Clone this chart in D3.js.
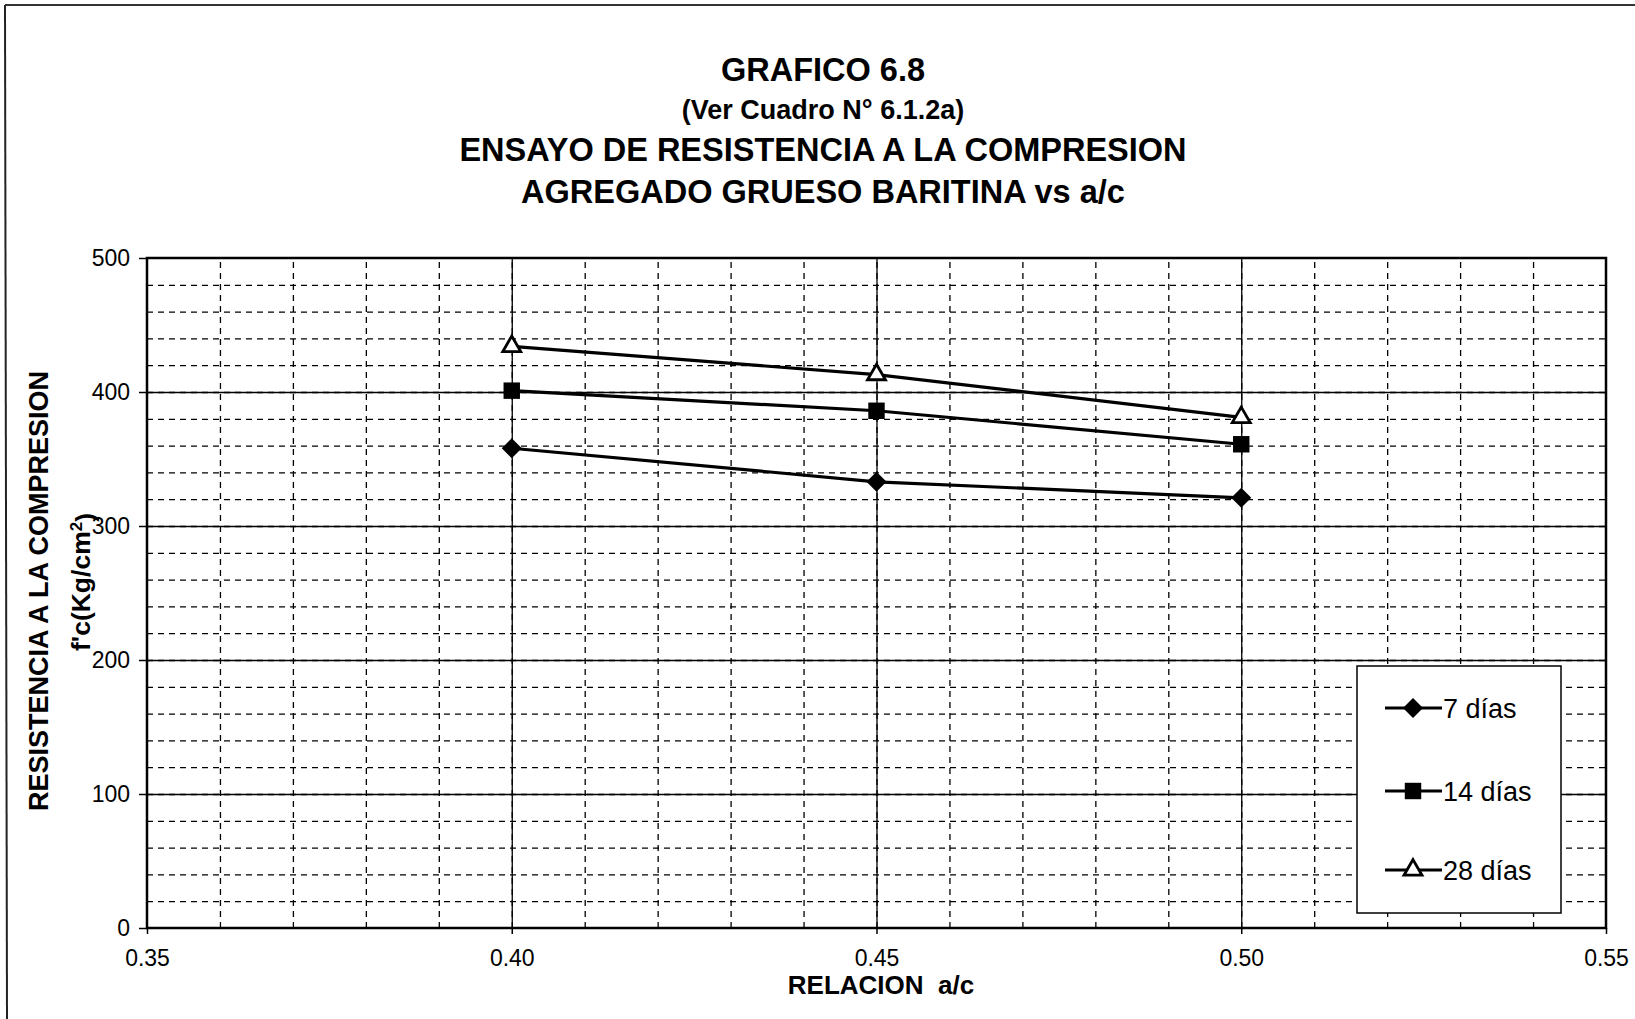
<!DOCTYPE html>
<html>
<head>
<meta charset="utf-8">
<script src="https://cdn.jsdelivr.net/npm/d3@7"></script>
<style>
  body { margin: 0; background: #fff; }
  text { font-family: "Liberation Sans", Arial, sans-serif; }
</style>
</head>
<body>
<div id="chart"></div>
<script>
// Data
var relacion = [0.40, 0.45, 0.50];
var dias7 = [358, 333, 321];
var dias14 = [401, 386, 361];
var dias28 = [434, 413, 381];
var seriesNames = ["7 días", "14 días", "28 días"];
var xTicks = [0.35, 0.40, 0.45, 0.50, 0.55];
var yTicks = [0, 100, 200, 300, 400, 500];

var width = 1635;
var height = 1019;
var margin = { top: 258, right: 29, bottom: 91, left: 147 };

var svg = d3.select("#chart")
    .append("svg")
    .attr("width", width)
    .attr("height", height);

// outer frame (only left and top edges visible in the scan)
svg.append("line")
    .attr("x1", 5).attr("y1", 5).attr("x2", 7).attr("y2", height)
    .attr("stroke", "#222").attr("stroke-width", 2);
svg.append("line")
    .attr("x1", 5).attr("y1", 5).attr("x2", width).attr("y2", 5)
    .attr("stroke", "#333").attr("stroke-width", 2);

var xScale = d3.scaleLinear()
    .domain([0.35, 0.55])
    .range([margin.left, width - margin.right]);

var yScale = d3.scaleLinear()
    .domain([0, 500])
    .range([height - margin.bottom, margin.top]);

var plotW = xScale.range()[1] - xScale.range()[0];
var plotH = yScale.range()[0] - yScale.range()[1];

// minor dashed grid
svg.append("g")
    .attr("transform", "translate(0," + (height - margin.bottom) + ")")
    .call(d3.axisBottom(xScale).tickValues(d3.range(36, 55).map(d => d / 100)).tickSize(-plotH).tickFormat(""))
    .call(g => g.select(".domain").remove())
    .selectAll("line")
    .attr("stroke", "#000")
    .attr("stroke-width", 1.3)
    .attr("stroke-dasharray", "6,5");

svg.append("g")
    .attr("transform", "translate(" + margin.left + ",0)")
    .call(d3.axisLeft(yScale).tickValues(d3.range(20, 500, 20)).tickSize(-plotW).tickFormat(""))
    .call(g => g.select(".domain").remove())
    .selectAll("line")
    .attr("stroke", "#000")
    .attr("stroke-width", 1.3)
    .attr("stroke-dasharray", "6,5");

// major solid grid
svg.append("g")
    .attr("transform", "translate(0," + (height - margin.bottom) + ")")
    .call(d3.axisBottom(xScale).tickValues([0.40, 0.45, 0.50]).tickSize(-plotH).tickFormat(""))
    .call(g => g.select(".domain").remove())
    .selectAll("line")
    .attr("stroke", "#000")
    .attr("stroke-width", 1.3);

svg.append("g")
    .attr("transform", "translate(" + margin.left + ",0)")
    .call(d3.axisLeft(yScale).tickValues([100, 200, 300, 400]).tickSize(-plotW).tickFormat(""))
    .call(g => g.select(".domain").remove())
    .selectAll("line")
    .attr("stroke", "#000")
    .attr("stroke-width", 1.3);

// plot frame
svg.append("rect")
    .attr("x", margin.left)
    .attr("y", margin.top)
    .attr("width", plotW)
    .attr("height", plotH)
    .attr("fill", "none")
    .attr("stroke", "#000")
    .attr("stroke-width", 2.5);

// axes with labels
var xAxis = svg.append("g")
    .attr("transform", "translate(0," + (height - margin.bottom) + ")")
    .call(d3.axisBottom(xScale).tickValues(xTicks).tickSize(6).tickPadding(16).tickFormat(d3.format(".2f")));
xAxis.select(".domain").remove();
xAxis.selectAll("line").attr("stroke", "#000").attr("stroke-width", 1.5);
xAxis.selectAll("text")
    .attr("fill", "#000")
    .style("font-size", "23px");

var yAxis = svg.append("g")
    .attr("transform", "translate(" + margin.left + ",0)")
    .call(d3.axisLeft(yScale).tickValues(yTicks).tickSize(8).tickPadding(9));
yAxis.select(".domain").remove();
yAxis.selectAll("line").attr("stroke", "#000").attr("stroke-width", 1.5);
yAxis.selectAll("text")
    .attr("fill", "#000")
    .style("font-size", "23px");

// series
var series = [dias7, dias14, dias28];
var shapes = ["diamond", "square", "triangle"];

var line = d3.line()
    .x((d, i) => xScale(relacion[i]))
    .y(d => yScale(d));

function marker(g, shape) {
    if (shape === "diamond") {
        g.append("path")
            .attr("d", d3.symbol().type(d3.symbolSquare).size(200)())
            .attr("transform", "rotate(45)")
            .attr("fill", "#000");
    } else if (shape === "square") {
        g.append("path")
            .attr("d", d3.symbol().type(d3.symbolSquare).size(270)())
            .attr("fill", "#000");
    } else {
        g.append("path")
            .attr("d", d3.symbol().type(d3.symbolTriangle).size(140)())
            .attr("fill", "#fff")
            .attr("stroke", "#000")
            .attr("stroke-width", 2.8);
    }
}

series.forEach(function(values, k) {
    svg.append("path")
        .datum(values)
        .attr("d", line)
        .attr("fill", "none")
        .attr("stroke", "#000")
        .attr("stroke-width", 3.2);

    values.forEach(function(v, i) {
        var g = svg.append("g")
            .attr("transform", "translate(" + xScale(relacion[i]) + "," + yScale(v) + ")");
        marker(g, shapes[k]);
    });
});

// legend
var legend = svg.append("g")
    .attr("transform", "translate(1357,666)");

legend.append("rect")
    .attr("width", 204)
    .attr("height", 247)
    .attr("fill", "#fff")
    .attr("stroke", "#000")
    .attr("stroke-width", 1.5);

var legendY = [42, 125, 204];
seriesNames.forEach(function(name, k) {
    legend.append("line")
        .attr("x1", 28).attr("x2", 85)
        .attr("y1", legendY[k]).attr("y2", legendY[k])
        .attr("stroke", "#000")
        .attr("stroke-width", 2.8);
    var g = legend.append("g")
        .attr("transform", "translate(56," + legendY[k] + ")");
    marker(g, shapes[k]);
    legend.append("text")
        .attr("x", 86)
        .attr("y", legendY[k])
        .attr("dy", ".36em")
        .style("font-size", "27px")
        .text(name);
});

// titles
var titleX = 823;
svg.append("text")
    .attr("x", titleX).attr("y", 81)
    .style("text-anchor", "middle")
    .style("font-size", "32.5px")
    .style("font-weight", "bold")
    .text("GRAFICO 6.8");

svg.append("text")
    .attr("x", titleX).attr("y", 119)
    .style("text-anchor", "middle")
    .style("font-size", "27px")
    .style("font-weight", "bold")
    .text("(Ver Cuadro N° 6.1.2a)");

svg.append("text")
    .attr("x", titleX).attr("y", 161)
    .style("text-anchor", "middle")
    .style("font-size", "32.5px")
    .style("font-weight", "bold")
    .text("ENSAYO DE RESISTENCIA A LA COMPRESION");

svg.append("text")
    .attr("x", titleX).attr("y", 203)
    .style("text-anchor", "middle")
    .style("font-size", "32.5px")
    .style("font-weight", "bold")
    .text("AGREGADO GRUESO BARITINA vs a/c");

// axis titles
svg.append("text")
    .attr("x", 881).attr("y", 994)
    .style("text-anchor", "middle")
    .style("font-size", "26px")
    .style("font-weight", "bold")
    .attr("xml:space", "preserve")
    .text("RELACION  a/c");

svg.append("text")
    .attr("transform", "translate(48,591) rotate(-90)")
    .style("text-anchor", "middle")
    .style("font-size", "27px")
    .style("font-weight", "bold")
    .text("RESISTENCIA A LA COMPRESION");

var unit = svg.append("text")
    .attr("transform", "translate(90,582) rotate(-90)")
    .style("text-anchor", "middle")
    .style("font-size", "26.5px")
    .style("font-weight", "bold");
unit.append("tspan").text("f'c(Kg/cm");
unit.append("tspan").attr("dy", "-0.45em").style("font-size", "17px").text("2");
unit.append("tspan").attr("dy", "0.45em").text(")");
</script>
</body>
</html>
